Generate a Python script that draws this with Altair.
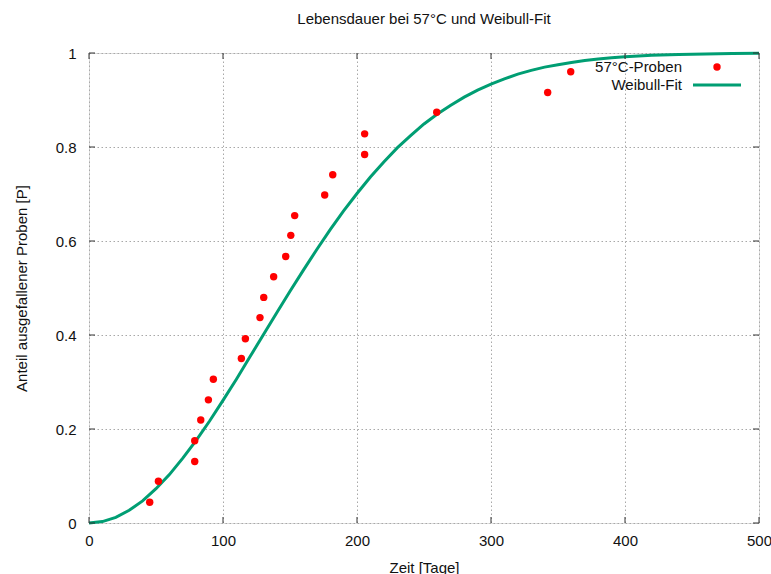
import altair as alt
import pandas as pd

# Messwerte (57°C-Proben)
probe_x = [45.3, 51.8, 78.9, 78.9, 83.4, 89.1, 92.8, 113.7, 116.7, 127.6, 130.4,
           137.8, 146.8, 150.6, 153.5, 175.9, 181.9, 205.7, 205.7, 259.5, 342.3, 359.5]
probe_y = [0.044, 0.089, 0.131, 0.175, 0.219, 0.262, 0.306, 0.350, 0.392, 0.437, 0.480,
           0.524, 0.567, 0.612, 0.654, 0.698, 0.741, 0.784, 0.828, 0.874, 0.916, 0.960]

# Weibull-Fit curve
fit_x = [0, 10, 20, 30, 40, 50, 60, 70, 80, 90, 100, 110, 120, 130, 140, 150, 160, 170,
         180, 190, 200, 210, 220, 230, 240, 250, 260, 270, 280, 290, 300, 310, 320, 330,
         340, 350, 360, 370, 380, 390, 400, 420, 440, 460, 480, 500]
fit_y = [0.0, 0.003, 0.012, 0.027, 0.047, 0.073, 0.103, 0.138, 0.176, 0.217, 0.261,
         0.306, 0.353, 0.400, 0.447, 0.493, 0.538, 0.582, 0.624, 0.664, 0.701, 0.736,
         0.768, 0.798, 0.824, 0.849, 0.870, 0.889, 0.906, 0.921, 0.934, 0.945, 0.955,
         0.963, 0.970, 0.975, 0.980, 0.984, 0.987, 0.990, 0.992, 0.995, 0.997, 0.998,
         0.999, 0.9995]

x_ticks = [0, 100, 200, 300, 400, 500]
y_ticks = [0, 0.2, 0.4, 0.6, 0.8, 1]

title_text = "Lebensdauer bei 57°C und Weibull-Fit"
x_title = "Zeit [Tage]"
y_title = "Anteil ausgefallener Proben [P]"
legend_labels = ["57°C-Proben", "Weibull-Fit"]

FONT = "Liberation Sans"
W, H = 670, 470

pts = pd.DataFrame({"t": probe_x, "p": probe_y})
fit = pd.DataFrame({"t": fit_x, "p": fit_y})
xt = pd.DataFrame({"t": x_ticks})
yt = pd.DataFrame({"p": y_ticks})

xscale = alt.Scale(domain=[0, 500], nice=False, zero=False)
yscale = alt.Scale(domain=[0, 1], nice=False, zero=False)

xaxis = alt.Axis(values=x_ticks, format="d", ticks=False, domain=False,
                 grid=True, gridDash=[1.5, 2.5], gridColor="#a8a8a8", gridWidth=1,
                 labelFont=FONT, labelFontSize=15, labelColor="#111111",
                 labelPadding=10, title=x_title, titleFont=FONT, titleFontSize=15,
                 titleFontWeight="normal", titleColor="#111111", titlePadding=12,
                 labelFlush=False)
yaxis = alt.Axis(values=y_ticks, format="~g", ticks=False, domain=False,
                 grid=True, gridDash=[1.5, 2.5], gridColor="#a8a8a8", gridWidth=1,
                 labelFont=FONT, labelFontSize=15, labelColor="#111111",
                 labelPadding=13, title=y_title, titleFont=FONT, titleFontSize=15,
                 titleFontWeight="normal", titleColor="#111111", titlePadding=26,
                 labelFlush=False)


def X():
    return alt.X("t:Q", scale=xscale, axis=xaxis)


def Y():
    return alt.Y("p:Q", scale=yscale, axis=yaxis)


tick_color = "#333333"
bottom_ticks = alt.Chart(xt).mark_rule(color=tick_color, strokeWidth=1).encode(
    x=X(), y=alt.value(H), y2=alt.value(H - 6))
top_ticks = alt.Chart(xt).mark_rule(color=tick_color, strokeWidth=1).encode(
    x=X(), y=alt.value(0), y2=alt.value(6))
left_ticks = alt.Chart(yt).mark_rule(color=tick_color, strokeWidth=1).encode(
    y=Y(), x=alt.value(0), x2=alt.value(6))
right_ticks = alt.Chart(yt).mark_rule(color=tick_color, strokeWidth=1).encode(
    y=Y(), x=alt.value(W), x2=alt.value(W - 6))

line = alt.Chart(fit).mark_line(color="#009e73", strokeWidth=3).encode(x=X(), y=Y())

points = alt.Chart(pts).mark_point(filled=True, color="#ff0000", size=55, opacity=1,
                                   shape="circle").encode(x=X(), y=Y())

leg1 = pd.DataFrame({"label": [legend_labels[0]]})
leg2 = pd.DataFrame({"label": [legend_labels[1]]})
leg_text1 = alt.Chart(leg1).mark_text(align="right", baseline="middle", font=FONT,
                                      fontSize=15, color="#111111").encode(
    text="label:N", x=alt.value(593), y=alt.value(13.5))
leg_text2 = alt.Chart(leg2).mark_text(align="right", baseline="middle", font=FONT,
                                      fontSize=15, color="#111111").encode(
    text="label:N", x=alt.value(593), y=alt.value(31.5))
leg_dot = alt.Chart(leg1).mark_point(filled=True, color="#ff0000", size=55,
                                     opacity=1).encode(
    x=alt.value(628), y=alt.value(14))
leg_line = alt.Chart(leg2).mark_rule(color="#009e73", strokeWidth=3).encode(
    x=alt.value(604), x2=alt.value(652), y=alt.value(32))

chart = alt.layer(
    line, points, bottom_ticks, top_ticks, left_ticks, right_ticks,
    leg_text1, leg_text2, leg_dot, leg_line
).properties(
    width=W, height=H,
    title=alt.TitleParams(title_text, font=FONT, fontSize=15, fontWeight="normal",
                          color="#111111", anchor="middle", offset=19),
    padding={"left": 89, "top": 53, "right": 12, "bottom": 51},
    autosize=alt.AutoSizeParams(type="none"),
).configure_view(
    stroke="#333333", strokeWidth=1.2
).configure(background="white")

chart.save("out.html", embed_options={"renderer": "svg", "actions": False})
